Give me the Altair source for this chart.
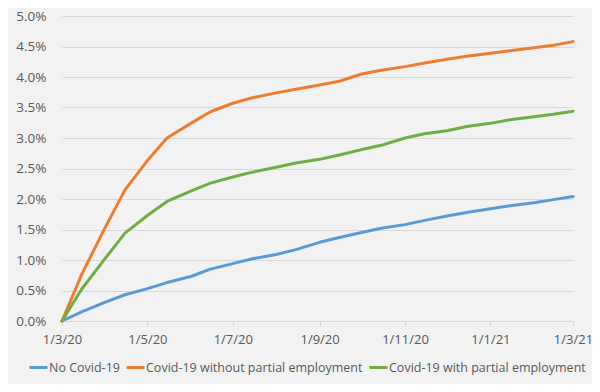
import altair as alt
import pandas as pd

dates = ["2020-03-01", "2020-03-15", "2020-04-01", "2020-04-15", "2020-05-01", "2020-05-15",
         "2020-06-01", "2020-06-15", "2020-07-01", "2020-07-15", "2020-08-01", "2020-08-15",
         "2020-09-01", "2020-09-15", "2020-10-01", "2020-10-15", "2020-11-01", "2020-11-15",
         "2020-12-01", "2020-12-15", "2021-01-01", "2021-01-15", "2021-02-01", "2021-02-15",
         "2021-03-01"]

no_covid = [0.00, 0.15, 0.31, 0.43, 0.53, 0.63, 0.73, 0.85, 0.94, 1.02, 1.09, 1.17,
            1.29, 1.37, 1.45, 1.52, 1.58, 1.65, 1.72, 1.78, 1.84, 1.89, 1.94, 1.99, 2.04]
covid_without = [0.00, 0.76, 1.54, 2.15, 2.63, 3.00, 3.24, 3.43, 3.57, 3.66, 3.74, 3.80,
                 3.87, 3.93, 4.05, 4.11, 4.17, 4.23, 4.29, 4.34, 4.39, 4.43, 4.48, 4.52, 4.58]
covid_with = [0.00, 0.52, 1.03, 1.44, 1.73, 1.96, 2.13, 2.26, 2.36, 2.44, 2.52, 2.59,
              2.65, 2.72, 2.81, 2.88, 3.00, 3.07, 3.12, 3.19, 3.24, 3.30, 3.35, 3.39, 3.44]

series_names = ["No Covid-19", "Covid-19 without partial employment", "Covid-19 with partial employment"]
series_colors = ["#5B9BD5", "#ED7D31", "#70AD47"]
y_ticks = [0.0, 0.005, 0.01, 0.015, 0.02, 0.025, 0.03, 0.035, 0.04, 0.045, 0.05]
x_tick_dates = [(2020, 3), (2020, 5), (2020, 7), (2020, 9), (2020, 11), (2021, 1), (2021, 3)]

rows = []
for name, vals in zip(series_names, [no_covid, covid_without, covid_with]):
    for d, v in zip(dates, vals):
        rows.append({"date": d, "value": v / 100.0, "series": name})
df = pd.DataFrame(rows)

FONT = "Open Sans"
TXT = "#595959"
GRID = "#D9D9D9"

def dt(y, m):
    return alt.DateTime(year=y, month=m, date=1, utc=True)

chart = alt.Chart(df).mark_line(strokeWidth=3, strokeCap="round", strokeJoin="round").encode(
    x=alt.X("date:T",
            scale=alt.Scale(type="utc", domain=[dt(2020, 3), dt(2021, 3)], nice=False),
            axis=alt.Axis(values=[dt(y, m) for y, m in x_tick_dates], format="%-d/%-m/%y",
                          title=None, grid=False, domainColor=GRID, tickColor=GRID,
                          tickSize=5, labelPadding=7, labelFont=FONT, labelFontSize=13,
                          labelColor=TXT, labelFlush=False, labelOverlap=False)),
    y=alt.Y("value:Q",
            scale=alt.Scale(domain=[0, 0.05], nice=False),
            axis=alt.Axis(values=y_ticks, format=".1%", title=None, domain=False, ticks=False,
                          grid=True, gridColor=GRID, gridWidth=1, labelPadding=16,
                          labelFont=FONT, labelFontSize=13.5, labelColor=TXT)),
    color=alt.Color("series:N",
                    scale=alt.Scale(domain=series_names, range=series_colors),
                    sort=series_names,
                    legend=alt.Legend(orient="none", legendX=-34, legendY=341,
                                      direction="horizontal", title=None,
                                      symbolType="stroke", symbolStrokeWidth=3, symbolSize=324,
                                      labelFont=FONT, labelFontSize=12.5, labelColor=TXT,
                                      labelLimit=400, labelOffset=0, columnPadding=0,
                                      padding=0)),
    order=alt.Order("date:T"),
).properties(
    width=511,
    height=305,
    autosize=alt.AutoSizeParams(type="none"),
    padding={"left": 54, "top": 8, "right": 19, "bottom": 63},
    background="#F2F2F2",
).configure_view(
    fill="#F2F2F2",
    stroke=None,
)

chart.save("out.html", embed_options={"renderer": "svg", "actions": False})
